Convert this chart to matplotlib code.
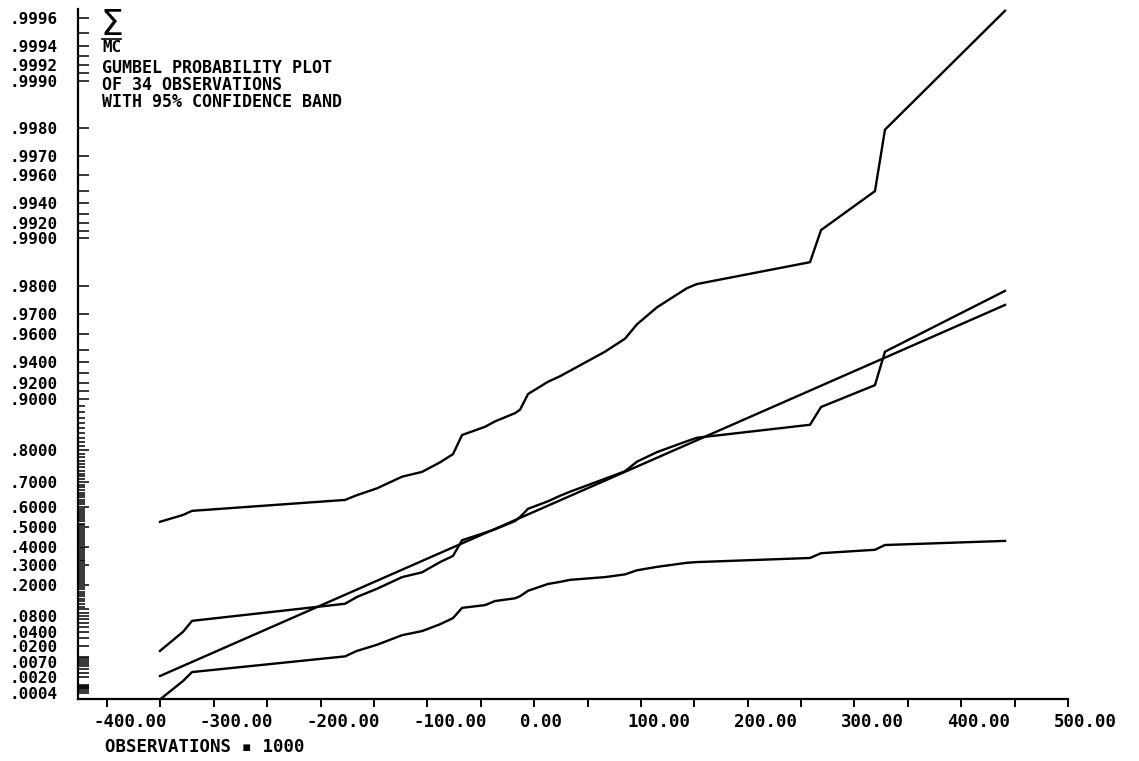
import numpy as np
import matplotlib
matplotlib.use("Agg")
from matplotlib import pyplot as plt
from matplotlib import transforms
from matplotlib.lines import Line2D

plt.rcParams['font.family'] = ['DejaVu Sans Mono', 'DejaVu Sans']
plt.rcParams['font.weight'] = 'bold'
plt.rcParams['axes.unicode_minus'] = False

# observations (units of 1000), one per vertex of the plotted curves
obs = [-350.4, -328.8, -320.4, -177.1, -165.9, -147.1, -123.7, -105.0, -88.1, -76.0,
       -67.5, -46.0, -36.6, -17.9, -13.2, -5.7, 13.0, 24.2, 33.6, 66.4,
       85.1, 96.3, 115.1, 143.2, 152.5, 258.4, 268.7, 319.2, 328.6, 441.0]

# gumbel reduced variate: plotting positions and 95% band limits
sample_y = [-1.44, -1.16, -1.00, -0.75, -0.65, -0.53, -0.36, -0.29, -0.14, -0.05,
            0.18, 0.29, 0.34, 0.46, 0.52, 0.64, 0.75, 0.83, 0.89, 1.08,
            1.19, 1.33, 1.47, 1.63, 1.68, 1.87, 2.13, 2.45, 2.94, 3.83]
upper_y = [0.45, 0.55, 0.61, 0.77, 0.84, 0.94, 1.11, 1.18, 1.32, 1.44,
           1.72, 1.84, 1.92, 2.04, 2.09, 2.32, 2.50, 2.58, 2.66, 2.94,
           3.13, 3.34, 3.59, 3.87, 3.93, 4.25, 4.72, 5.29, 6.19, 7.93]
lower_y = [-2.15, -1.88, -1.75, -1.52, -1.44, -1.35, -1.21, -1.15, -1.05, -0.96,
           -0.81, -0.77, -0.71, -0.67, -0.64, -0.56, -0.46, -0.43, -0.40, -0.36,
           -0.32, -0.26, -0.21, -0.15, -0.14, -0.08, -0.01, 0.04, 0.11, 0.17]

# fitted gumbel parameters (location, scale)
fit_loc = -87.0
fit_scale = 145.7

prob_labels = [".9996", ".9994", ".9992", ".9990", ".9980", ".9970", ".9960", ".9940",
               ".9920", ".9900", ".9800", ".9700", ".9600", ".9400", ".9200", ".9000",
               ".8000", ".7000", ".6000", ".5000", ".4000", ".3000", ".2000", ".0800",
               ".0400", ".0200", ".0070", ".0020", ".0004"]
x_labels = ["-400.00", "-300.00", "-200.00", "-100.00", "0.00",
            "100.00", "200.00", "300.00", "400.00", "500.00"]
title_lines = ["GUMBEL PROBABILITY PLOT", "OF 34 OBSERVATIONS", "WITH 95% CONFIDENCE BAND"]


def gumbel(p):
    p = np.asarray(p, dtype=float)
    return -np.log(-np.log(p))


fig = plt.figure(figsize=(11.39, 7.61), dpi=100)
ax = fig.add_axes([78 / 1139, 61.6 / 761, 990 / 1139, 690 / 761])

ax.plot(obs, upper_y, color='black', lw=1.7)
ax.plot(obs, sample_y, color='black', lw=1.7)
ax.plot(obs, lower_y, color='black', lw=1.7)
fit_x = np.array([min(obs), max(obs)])
ax.plot(fit_x, (fit_x - fit_loc) / fit_scale, color='black', lw=1.7)

ax.set_xlim(-427.2, 500)
ax.set_ylim(-2.15, 7.95)

for side in ['top', 'right']:
    ax.spines[side].set_visible(False)
for side in ['left', 'bottom']:
    ax.spines[side].set_linewidth(1.6)

# probability ticks: long ones (labelled or not) and short ones in the middle range
long_p = np.concatenate([
    np.arange(5, 10) * 1e-4,
    np.arange(1, 10) * 1e-3,
    np.arange(1, 11) * 1e-2,
    0.9 + np.arange(1, 10) * 1e-2,
    0.99 + np.arange(1, 10) * 1e-3,
    0.999 + np.arange(1, 7) * 1e-4,
])
label_p = [float(s) for s in prob_labels]
major_p = sorted(set(np.round(long_p, 5).tolist()) | set(label_p))
label_map = {round(p, 5): s for p, s in zip(label_p, prob_labels)}
major_text = [label_map.get(round(p, 5), "") for p in major_p]
short_p = [p for p in np.round(0.1 + np.arange(1, 80) * 0.01, 2) if p not in label_p]

ax.set_yticks(gumbel(major_p), labels=major_text)
ax.set_yticks(gumbel(short_p), minor=True)
ax.tick_params(axis='y', which='major', direction='in', length=8, width=1.1,
               pad=15, labelsize=11.5)
ax.tick_params(axis='y', which='minor', direction='in', length=5, width=1.1)

x_ticks = np.arange(-400, 501, 50)
x_text = [x_labels[i // 2] if i % 2 == 0 else "" for i in range(len(x_ticks))]
ax.set_xticks(x_ticks, labels=x_text)
ax.tick_params(axis='x', direction='out', length=6, width=1.4, pad=4, labelsize=12.5)

shift = transforms.ScaledTranslation(-14 / 100, 0, fig.dpi_scale_trans)
for lbl in ax.get_xticklabels():
    lbl.set_horizontalalignment('left')
    lbl.set_transform(lbl.get_transform() + shift)


def fx(px):
    return px / 1139


def fy(py):
    return 1 - py / 761


fig.text(fx(100), fy(35), "Σ", fontsize=26, family='DejaVu Sans',
         weight='normal', va='baseline', ha='left')
fig.add_artist(Line2D([fx(102), fx(121)], [fy(39), fy(39)], color='black',
                      lw=1.2, transform=fig.transFigure))
fig.text(fx(102), fy(52), "MC", fontsize=11.5, va='baseline', ha='left')
# baseline of a multi-line text is that of its last line
fig.text(fx(102), fy(107), "\n".join(title_lines), fontsize=12,
         linespacing=0.93, va='baseline', ha='left')
fig.text(fx(105), fy(752), "OBSERVATIONS ▪ 1000", fontsize=12.5,
         va='baseline', ha='left')

fig.savefig('out.png', dpi=100)
